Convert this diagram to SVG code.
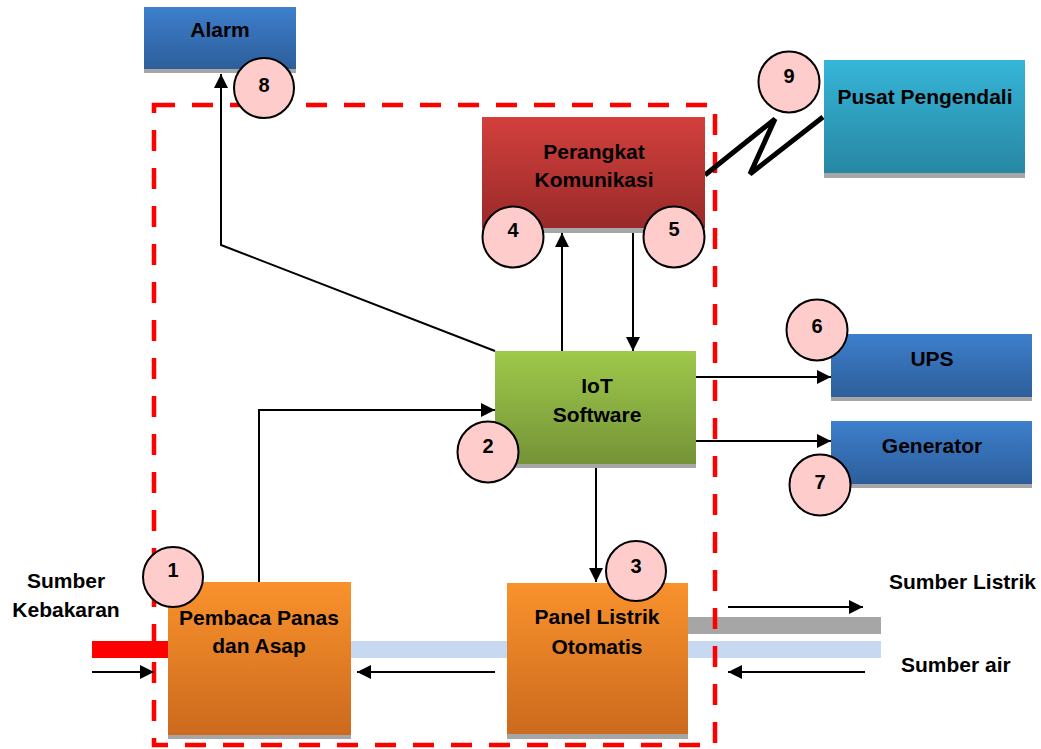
<svg xmlns="http://www.w3.org/2000/svg" width="1041" height="749" viewBox="0 0 1041 749">
<defs>
<linearGradient id="gBlue" x1="0" y1="0" x2="0" y2="1"><stop offset="0" stop-color="#3d7fcc"/><stop offset="1" stop-color="#2d5e9b"/></linearGradient>
<linearGradient id="gRed" x1="0" y1="0" x2="0" y2="1"><stop offset="0" stop-color="#d2403c"/><stop offset="1" stop-color="#992a29"/></linearGradient>
<linearGradient id="gGreen" x1="0" y1="0" x2="0" y2="1"><stop offset="0" stop-color="#9ec94a"/><stop offset="1" stop-color="#759338"/></linearGradient>
<linearGradient id="gOrange" x1="0" y1="0" x2="0" y2="1"><stop offset="0" stop-color="#f9922c"/><stop offset="1" stop-color="#cc6a1e"/></linearGradient>
<linearGradient id="gCyan" x1="0" y1="0" x2="0" y2="1"><stop offset="0" stop-color="#36b5d8"/><stop offset="1" stop-color="#2787a3"/></linearGradient>
<marker id="arr" markerUnits="userSpaceOnUse" markerWidth="15" markerHeight="15" refX="14" refY="7" orient="auto"><path d="M0,0 L14,7 L0,14 Z" fill="#000"/></marker>
</defs>
<style>
.lbl{font-family:"Liberation Sans",Arial,sans-serif;font-weight:bold;font-size:21px;fill:#000}
.num{font-family:"Liberation Sans",Arial,sans-serif;font-weight:bold;font-size:20px;fill:#000;text-anchor:middle}
.mid{text-anchor:middle}
.shadow{fill:#a6a6a6}
.badge{fill:#ffcccc;stroke:#000;stroke-width:2}
.con{fill:none;stroke:#000;stroke-width:2}
.arrow{fill:none;stroke:#000;stroke-width:2;marker-end:url(#arr)}
</style>

<g id="bars">
<rect x="92" y="641" width="80" height="17" fill="#ff0000"/>
<rect x="351" y="641" width="530" height="17" fill="#c6d9f0"/>
<rect x="688" y="617" width="193" height="17" fill="#a6a6a6"/>
</g>

<g id="boundary">
<rect x="154" y="105" width="561" height="640" fill="none" stroke="#ff0000" stroke-width="4.5" stroke-dasharray="21 17"/>
</g>

<g id="connectors">
<polyline class="arrow" points="495,351 221,245 221,74"/>
<line class="arrow" x1="562" y1="351" x2="562" y2="233"/>
<line class="arrow" x1="633" y1="232" x2="633" y2="351"/>
<polyline class="arrow" points="259,582 259,410 495,410"/>
<line class="arrow" x1="696" y1="377" x2="831" y2="377"/>
<line class="arrow" x1="696" y1="441" x2="831" y2="441"/>
<line class="arrow" x1="596" y1="464" x2="596" y2="582"/>
<line class="arrow" x1="495" y1="672" x2="357" y2="672"/>
<line class="arrow" x1="92" y1="672" x2="154" y2="672"/>
<line class="arrow" x1="728" y1="607" x2="863" y2="607"/>
<line class="arrow" x1="865" y1="672" x2="728" y2="672"/>
<polyline fill="none" stroke="#000" stroke-width="5" points="705,175 775,119 750,174 823,117"/>
</g>

<g id="alarm">
<rect x="144" y="69" width="152" height="4" class="shadow"/>
<rect x="144" y="7" width="152" height="62" fill="url(#gBlue)"/>
<text class="lbl mid" x="220" y="37">Alarm</text>
</g>

<g id="perangkat">
<rect x="482" y="228" width="223" height="5" class="shadow"/>
<rect x="482" y="117" width="223" height="111" fill="url(#gRed)"/>
<text class="lbl mid" x="594" y="159">Perangkat</text>
<text class="lbl mid" x="594" y="187">Komunikasi</text>
</g>

<g id="pusat">
<rect x="824" y="173" width="201" height="5" class="shadow"/>
<rect x="824" y="60" width="201" height="113" fill="url(#gCyan)"/>
<text class="lbl mid" x="925" y="104">Pusat Pengendali</text>
</g>

<g id="iot">
<rect x="495" y="464" width="201" height="4" class="shadow"/>
<rect x="495" y="351" width="201" height="113" fill="url(#gGreen)"/>
<text class="lbl mid" x="597" y="393">IoT</text>
<text class="lbl mid" x="597" y="422">Software</text>
</g>

<g id="ups">
<rect x="831" y="397" width="201" height="4" class="shadow"/>
<rect x="831" y="334" width="201" height="63" fill="url(#gBlue)"/>
<text class="lbl mid" x="932" y="366">UPS</text>
</g>

<g id="generator">
<rect x="831" y="484" width="201" height="4" class="shadow"/>
<rect x="831" y="421" width="201" height="63" fill="url(#gBlue)"/>
<text class="lbl mid" x="932" y="453">Generator</text>
</g>

<g id="pembaca">
<rect x="168" y="735" width="183" height="4" class="shadow"/>
<rect x="168" y="582" width="183" height="153" fill="url(#gOrange)"/>
<text class="lbl mid" x="259" y="625">Pembaca Panas</text>
<text class="lbl mid" x="259" y="653">dan Asap</text>
</g>

<g id="panel">
<rect x="507" y="734" width="181" height="5" class="shadow"/>
<rect x="507" y="583" width="181" height="151" fill="url(#gOrange)"/>
<text class="lbl mid" x="597" y="624">Panel Listrik</text>
<text class="lbl mid" x="597" y="654">Otomatis</text>
</g>

<g id="labels">
<text class="lbl mid" x="66" y="588">Sumber</text>
<text class="lbl mid" x="66" y="617">Kebakaran</text>
<text class="lbl" x="889" y="589">Sumber Listrik</text>
<text class="lbl" x="901" y="672">Sumber air</text>
</g>

<g id="badge1"><circle class="badge" cx="173" cy="577" r="30"/><text class="num" x="173" y="577">1</text></g>
<g id="badge2"><circle class="badge" cx="488" cy="452" r="30.5"/><text class="num" x="488" y="453">2</text></g>
<g id="badge3"><circle class="badge" cx="636" cy="571" r="30"/><text class="num" x="636" y="573">3</text></g>
<g id="badge4"><circle class="badge" cx="513" cy="237" r="30.5"/><text class="num" x="513" y="237">4</text></g>
<g id="badge5"><circle class="badge" cx="674" cy="237" r="30.5"/><text class="num" x="674" y="236">5</text></g>
<g id="badge6"><circle class="badge" cx="817" cy="330" r="30.5"/><text class="num" x="817" y="333">6</text></g>
<g id="badge7"><circle class="badge" cx="820" cy="485" r="30.5"/><text class="num" x="820" y="489">7</text></g>
<g id="badge8"><circle class="badge" cx="264" cy="88" r="30"/><text class="num" x="264" y="92">8</text></g>
<g id="badge9"><circle class="badge" cx="789" cy="82" r="30.5"/><text class="num" x="789" y="83">9</text></g>
</svg>
